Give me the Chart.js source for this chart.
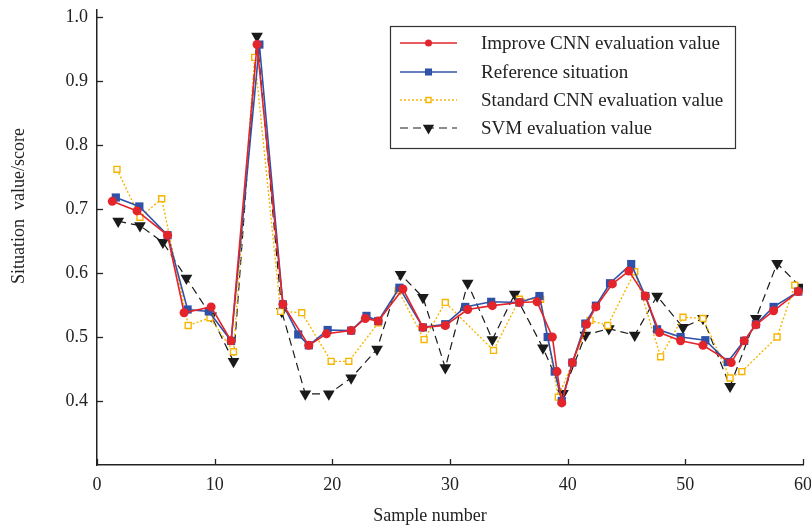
<!DOCTYPE html>
<html>
<head>
<meta charset="utf-8">
<script src="https://cdn.jsdelivr.net/npm/chart.js@4/dist/chart.umd.min.js"></script>
<style>
  html, body { margin: 0; padding: 0; background: #fff; }
  #wrap { width: 811px; height: 531px; position: relative; }
</style>
</head>
<body>
<div id="wrap"><canvas id="chart"></canvas></div>
<script>
// Data
const improveX = [1.3, 3.4, 6.0, 7.4, 9.7, 11.4, 13.6, 15.8, 18.0, 19.5, 21.6, 22.8, 23.9, 26.0, 27.7, 29.6, 31.5, 33.6, 35.9, 37.4, 38.7, 39.1, 39.5, 40.4, 41.6, 42.4, 43.8, 45.2, 46.6, 47.8, 49.6, 51.5, 53.9, 55.0, 56.0, 57.5, 59.6];
const improveY = [0.712, 0.697, 0.659, 0.538, 0.547, 0.494, 0.957, 0.551, 0.487, 0.505, 0.510, 0.529, 0.525, 0.575, 0.515, 0.518, 0.543, 0.549, 0.554, 0.555, 0.500, 0.446, 0.397, 0.460, 0.520, 0.547, 0.583, 0.603, 0.564, 0.507, 0.494, 0.487, 0.460, 0.494, 0.519, 0.541, 0.571];

const referenceX = [1.6, 3.6, 6.0, 7.7, 9.5, 11.4, 13.8, 15.8, 17.1, 18.0, 19.6, 21.6, 22.9, 23.9, 25.7, 27.7, 29.6, 31.3, 33.5, 35.9, 37.6, 38.3, 38.9, 39.5, 40.4, 41.5, 42.4, 43.6, 45.4, 46.6, 47.6, 49.6, 51.7, 53.6, 55.0, 56.0, 57.5, 59.6];
const referenceY = [0.718, 0.704, 0.659, 0.543, 0.540, 0.494, 0.957, 0.551, 0.504, 0.487, 0.511, 0.510, 0.533, 0.525, 0.577, 0.515, 0.520, 0.547, 0.555, 0.554, 0.564, 0.500, 0.446, 0.400, 0.460, 0.521, 0.549, 0.584, 0.614, 0.564, 0.512, 0.500, 0.495, 0.461, 0.494, 0.520, 0.547, 0.571];

const standardX = [1.7, 3.65, 5.5, 7.75, 9.6, 11.6, 13.4, 15.6, 17.4, 19.9, 21.4, 23.9, 25.6, 27.8, 29.6, 33.7, 35.9, 37.7, 39.2, 41.9, 43.4, 45.7, 47.9, 49.8, 51.5, 53.8, 54.8, 57.8, 59.3];
const standardY = [0.762, 0.687, 0.716, 0.518, 0.530, 0.477, 0.937, 0.540, 0.538, 0.462, 0.462, 0.522, 0.573, 0.496, 0.554, 0.479, 0.559, 0.559, 0.406, 0.526, 0.518, 0.602, 0.469, 0.531, 0.529, 0.436, 0.446, 0.500, 0.581];

const svmX = [1.8, 3.65, 5.6, 7.6, 9.7, 11.6, 13.6, 15.7, 17.7, 19.7, 21.6, 23.8, 25.8, 27.7, 29.6, 31.5, 33.6, 35.5, 37.9, 39.6, 41.5, 43.5, 45.7, 47.6, 49.8, 51.5, 53.8, 56.0, 57.8, 59.8];
const svmY = [0.681, 0.674, 0.648, 0.592, 0.533, 0.462, 0.970, 0.540, 0.411, 0.411, 0.436, 0.481, 0.598, 0.562, 0.452, 0.584, 0.496, 0.567, 0.483, 0.412, 0.503, 0.513, 0.503, 0.564, 0.515, 0.529, 0.423, 0.529, 0.615, 0.578];

const xTicks = [0, 10, 20, 30, 40, 50, 60];
const yTicks = [0.4, 0.5, 0.6, 0.7, 0.8, 0.9, 1.0];

const seriesNames = ['Improve CNN evaluation value', 'Reference situation', 'Standard CNN evaluation value', 'SVM evaluation value'];

const toPoints = (xs, ys) => xs.map((x, i) => ({ x, y: ys[i] }));

const FONT = "'Liberation Serif', 'Times New Roman', serif";
Chart.defaults.font.family = FONT;
Chart.defaults.color = '#222';

// draws inward tick marks, axis titles and the boxed legend
const decorPlugin = {
    id: 'decor',
    afterDraw(chart) {
        const ctx = chart.ctx;
        const xs = chart.scales.x, ys = chart.scales.y;
        const area = chart.chartArea;

        ctx.save();
        ctx.strokeStyle = '#222';
        ctx.lineWidth = 1.3;
        xTicks.forEach(v => {
            const px = Math.round(xs.getPixelForValue(v)) + 0.5;
            ctx.beginPath();
            ctx.moveTo(px, area.bottom);
            ctx.lineTo(px, area.bottom - 6);
            ctx.stroke();
        });
        yTicks.forEach(v => {
            const py = Math.round(ys.getPixelForValue(v)) + 0.5;
            ctx.beginPath();
            ctx.moveTo(area.left, py);
            ctx.lineTo(area.left + 6, py);
            ctx.stroke();
        });

        // axis titles
        ctx.fillStyle = '#222';
        ctx.font = '18px ' + FONT;
        ctx.textAlign = 'center';
        ctx.textBaseline = 'middle';
        ctx.fillText('Sample number', 430, 516);
        ctx.save();
        ctx.translate(19, 206);
        ctx.rotate(-Math.PI / 2);
        ctx.fillText('Situation  value/score', 0, 0);
        ctx.restore();

        // legend box
        const lx = 390.5, ly = 26.5, lw = 345, lh = 122;
        ctx.fillStyle = '#fff';
        ctx.fillRect(lx, ly, lw, lh);
        ctx.strokeStyle = '#333';
        ctx.lineWidth = 1.2;
        ctx.strokeRect(lx, ly, lw, lh);

        const rowY = [43, 72, 100, 128];
        chart.data.datasets.forEach((ds, i) => {
            const y = rowY[i];
            ctx.save();
            ctx.strokeStyle = ds.borderColor;
            ctx.lineWidth = ds.borderWidth;
            ctx.setLineDash(ds.borderDash || []);
            ctx.beginPath();
            ctx.moveTo(400, y);
            ctx.lineTo(457, y);
            ctx.stroke();
            ctx.setLineDash([]);
            ctx.fillStyle = ds.backgroundColor;
            ctx.strokeStyle = ds.borderColor;
            ctx.lineWidth = ds.pointBorderWidth;
            Chart.helpers.drawPoint(ctx, {
                pointStyle: ds.pointStyle,
                radius: ds.legendRadius,
                rotation: ds.pointRotation || 0,
                borderWidth: ds.pointBorderWidth
            }, 428.5, y);
            ctx.restore();
        });

        ctx.fillStyle = '#222';
        ctx.font = '19px ' + FONT;
        ctx.textAlign = 'left';
        ctx.textBaseline = 'middle';
        seriesNames.forEach((name, i) => ctx.fillText(name, 481, rowY[i] + 1));
        ctx.restore();
    }
};

const ctxEl = document.getElementById('chart').getContext('2d');

new Chart(ctxEl, {
    type: 'scatter',
    data: {
        datasets: [
            {
                label: seriesNames[0],
                data: toPoints(improveX, improveY),
                showLine: true,
                borderColor: '#e3242b',
                backgroundColor: '#e3242b',
                borderWidth: 1.6,
                pointStyle: 'circle',
                pointRadius: 4.5,
                legendRadius: 3.5,
                pointBorderWidth: 0
            },
            {
                label: seriesNames[1],
                data: toPoints(referenceX, referenceY),
                showLine: true,
                borderColor: '#2f52a8',
                backgroundColor: '#2f52a8',
                borderWidth: 1.6,
                pointStyle: 'rect',
                pointRadius: 5.8,
                legendRadius: 5,
                pointBorderWidth: 0
            },
            {
                label: seriesNames[2],
                data: toPoints(standardX, standardY),
                showLine: true,
                borderColor: '#f7b500',
                backgroundColor: '#ffffff',
                borderWidth: 1.4,
                borderDash: [2, 2],
                pointStyle: 'rect',
                pointRadius: 4.2,
                legendRadius: 3.6,
                pointBorderWidth: 1.4
            },
            {
                label: seriesNames[3],
                data: toPoints(svmX, svmY),
                showLine: true,
                borderColor: '#1a1a1a',
                backgroundColor: '#1a1a1a',
                borderWidth: 1.2,
                borderDash: [8, 5],
                pointStyle: 'triangle',
                pointRotation: 180,
                pointRadius: 6.8,
                legendRadius: 6.5,
                pointBorderWidth: 0
            }
        ]
    },
    options: {
        responsive: true,
        maintainAspectRatio: false,
        animation: false,
        layout: { padding: { top: 10, right: 8, left: 0, bottom: 0 } },
        plugins: {
            legend: { display: false },
            tooltip: { enabled: false }
        },
        elements: { line: { tension: 0 } },
        scales: {
            x: {
                type: 'linear',
                min: 0,
                max: 60,
                afterBuildTicks: s => { s.ticks = xTicks.map(v => ({ value: v })); },
                afterFit: s => { s.height = 66; s.paddingLeft = 0; s.paddingRight = 0; },
                grid: { display: false, drawTicks: false },
                border: { display: true, color: '#222', width: 1.5 },
                ticks: { padding: 9, font: { size: 18 }, color: '#222', maxRotation: 0 }
            },
            y: {
                type: 'linear',
                min: 0.3,
                max: 1.011,
                afterBuildTicks: s => { s.ticks = yTicks.map(v => ({ value: v })); },
                afterFit: s => { s.width = 97; s.paddingTop = 0; s.paddingBottom = 0; },
                grid: { display: false, drawTicks: false },
                border: { display: true, color: '#222', width: 1.5 },
                ticks: { padding: 9, font: { size: 18 }, color: '#222', callback: v => v.toFixed(1) }
            }
        }
    },
    plugins: [decorPlugin]
});
</script>
</body>
</html>
